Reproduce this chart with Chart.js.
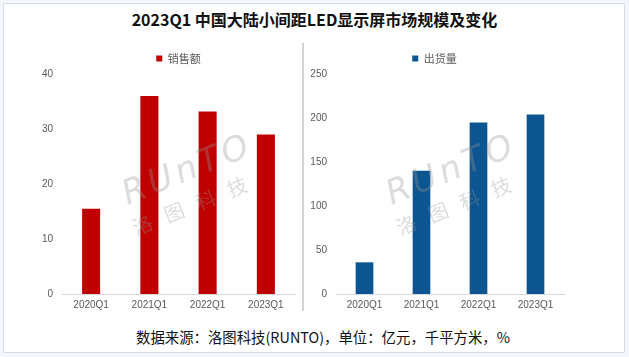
<!DOCTYPE html>
<html><head><meta charset="utf-8">
<script src="https://cdn.jsdelivr.net/npm/chart.js@4"></script>
<style>
html,body{margin:0;padding:0;background:#f3f7fb;}
#frame{position:absolute;left:3px;top:3px;width:620px;height:348px;background:#fff;border:1px solid #d6dde6;}
#title{position:absolute;left:0;top:7px;width:629px;text-align:center;font-family:"Noto Sans CJK SC",sans-serif;font-weight:bold;font-size:16px;color:#111;}
#foot{position:absolute;left:0;top:326px;width:646px;text-align:center;font-family:"Noto Sans CJK SC",sans-serif;font-size:14.4px;color:#111;}
#sep{position:absolute;left:302px;top:43px;width:2px;height:268px;background:#d4d4d4;}
.c{position:absolute;}
.wm{position:absolute;color:rgba(150,150,150,0.33);transform:rotate(-22deg);pointer-events:none;}
</style></head><body>
<div id="frame"></div>
<div id="title">2023Q1 中国大陆小间距LED显示屏市场规模及变化</div>
<div id="sep"></div>
<div class="c" style="left:0;top:44px;width:300px;height:272px;"><canvas id="c1" width="300" height="272"></canvas></div>
<div class="c" style="left:305px;top:44px;width:264px;height:272px;"><canvas id="c2" width="264" height="272"></canvas></div>
<div id="foot">数据来源：洛图科技(RUNTO)，单位：亿元，千平方米，%</div>
<script>
const categories = ["2020Q1","2021Q1","2022Q1","2023Q1"];
const salesLabel = "销售额";
const salesValues = [15.5, 36.0, 33.2, 29.0];
const shipLabel = "出货量";
const shipValues = [36, 140, 195, 204];
const salesTicks = [0,10,20,30,40];
const shipTicks = [0,50,100,150,200,250];

function makeChart(id, label, data, color, max, step, yWidth, legendFull){
  return new Chart(document.getElementById(id), {
    type:'bar',
    data:{labels:categories, datasets:[{label:label, data:data, backgroundColor:color, borderWidth:0, categoryPercentage:1, barPercentage:0.31}]},
    options:{
      responsive:false, animation:false,
      layout:{padding:{left:0,right:5,top:0,bottom:0}},
      plugins:{
        legend:{display:true, position:'top', fullSize:legendFull, labels:{boxWidth:6, boxHeight:6, padding:9, color:'#595959', font:{family:'"Noto Sans CJK SC", sans-serif', size:11}}},
        tooltip:{enabled:false}
      },
      scales:{
        x:{grid:{display:false, drawTicks:false}, border:{display:true,color:'#d9d9d9',width:1},
           ticks:{color:'#595959', padding:5, font:{family:'"Liberation Sans", sans-serif', size:10}}},
        y:{min:0, max:max, grid:{display:false, drawTicks:false}, border:{display:false},
           afterFit:function(s){s.width=yWidth;},
           ticks:{stepSize:step, color:'#595959', padding:9, font:{family:'"Liberation Sans", sans-serif', size:10}}}
      }
    }
  });
}
makeChart('c1', salesLabel, salesValues, '#C00000', 40, 10, 62, false);
makeChart('c2', shipLabel, shipValues, '#0D5591', 250, 50, 31, true);
</script>
<div class="wm" style="left:118px;top:148px;font-size:34px;font-style:italic;letter-spacing:4px;font-family:'DejaVu Sans';">RUnTO</div>
<div class="wm" style="left:128px;top:188px;font-size:20px;font-family:'Noto Sans CJK SC';letter-spacing:14px;">洛图科技</div>
<div class="wm" style="left:382px;top:148px;font-size:34px;font-style:italic;letter-spacing:4px;font-family:'DejaVu Sans';">RUnTO</div>
<div class="wm" style="left:392px;top:188px;font-size:20px;font-family:'Noto Sans CJK SC';letter-spacing:14px;">洛图科技</div>
</body></html>
